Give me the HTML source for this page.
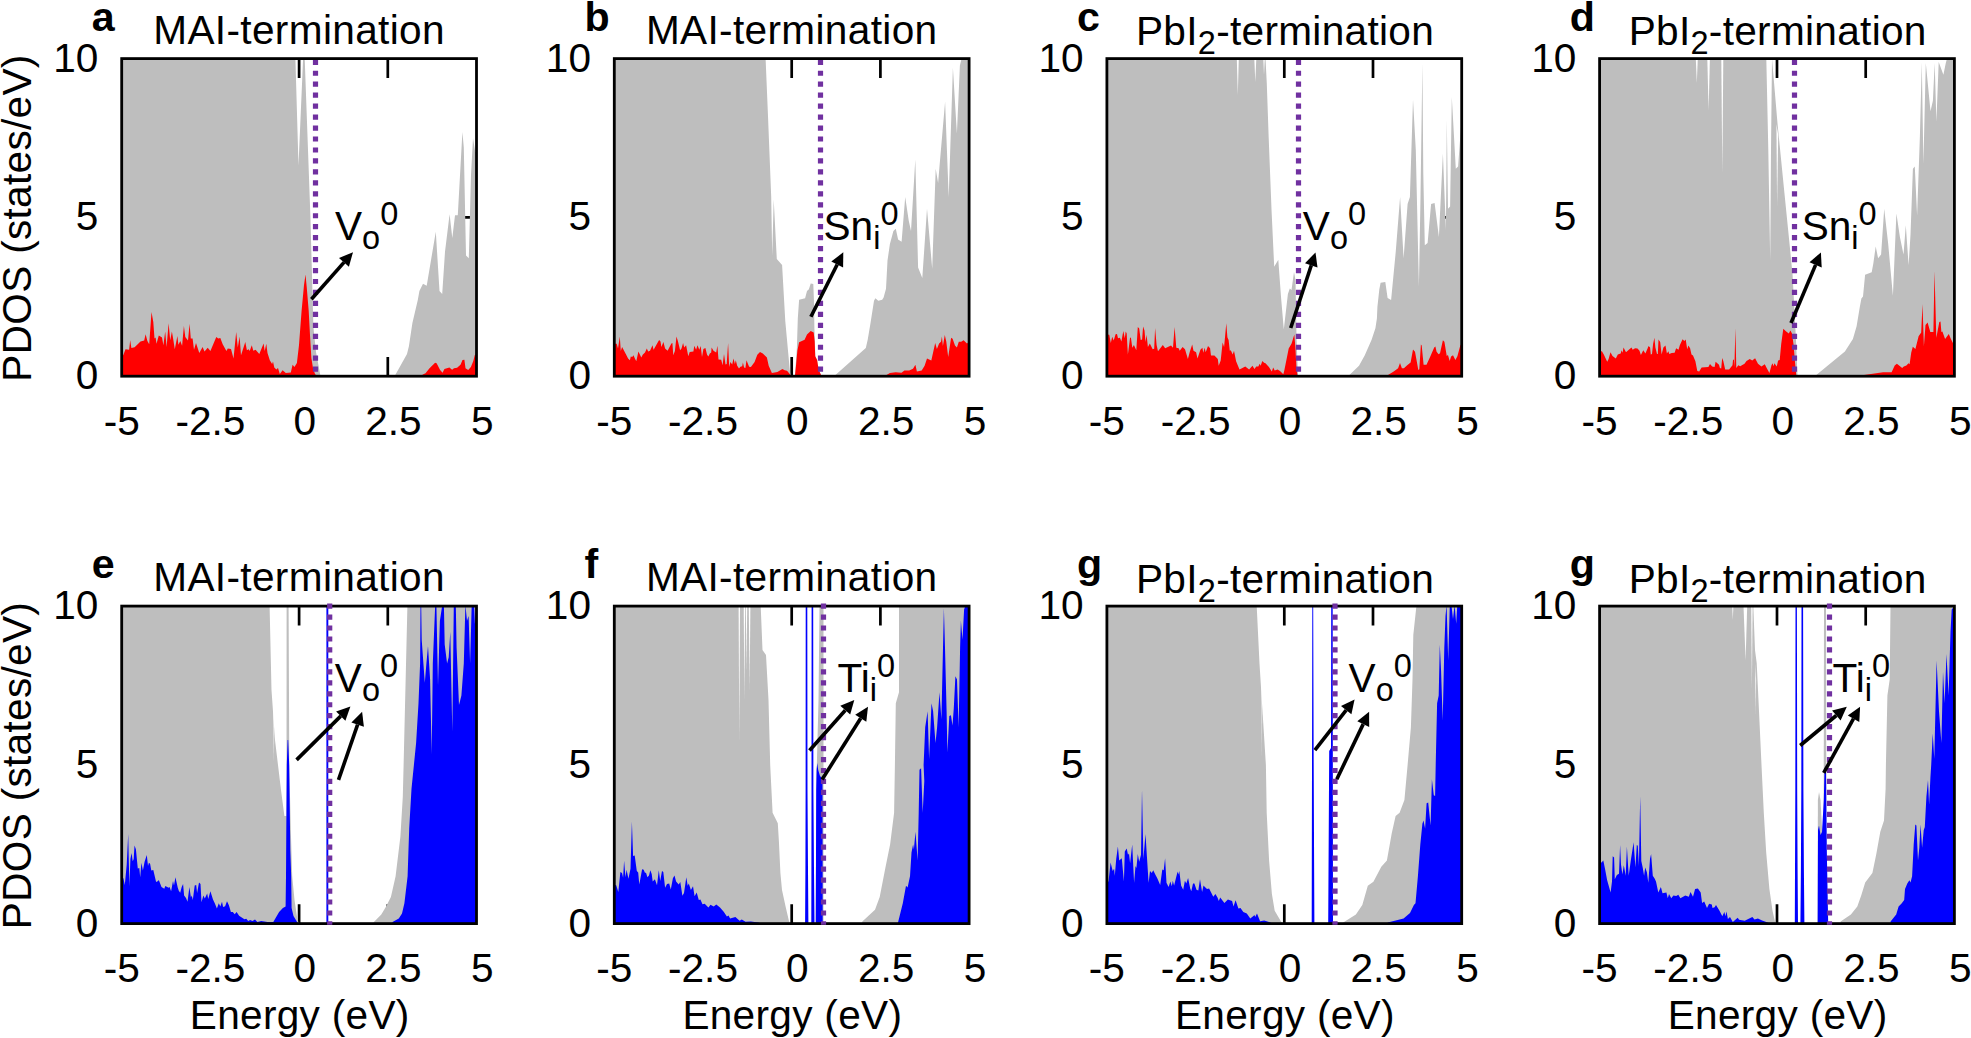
<!DOCTYPE html>
<html lang="en"><head><meta charset="utf-8"><title>PDOS</title>
<style>html,body{margin:0;padding:0;background:#fff}body{width:1971px;height:1038px;overflow:hidden}svg{display:block}text{font-family:"Liberation Sans",sans-serif;fill:#000}</style>
</head><body>
<svg width="1971" height="1038" viewBox="0 0 1971 1038">
<rect width="1971" height="1038" fill="#fff"/>
<g id="panel-a">
<clipPath id="cp0"><rect x="121.7" y="58.6" width="354.8" height="317.6"/></clipPath>
<path d="M210.4 58.6v19.3M210.4 376.2v-19.3M299.1 58.6v19.3M299.1 376.2v-19.3M387.8 58.6v19.3M387.8 376.2v-19.3M121.7 217.4h19.3M476.5 217.4h-19.3" stroke="#000" stroke-width="2.7" fill="none"/>
<g clip-path="url(#cp0)">
<polygon fill="#bebebe" points="121.7,376.2 121.7,58.6 295.4,58.6 298.5,165.4 303.1,58.6 304.7,58.6 310.4,216 313.4,327 316,352 320.5,376.2"/>
<polygon fill="#bebebe" points="395.4,376.2 395.4,374.8 407,353.9 408.9,346.2 412.4,323.1 417.8,300 419.4,291.1 423,283.8 426.7,285.7 435.8,231.7 439.5,291.1 442.2,293.9 445,251.8 449.6,214.3 452.3,238.1 455,215.2 457.8,215.2 462.4,131.9 463.8,147.5 466,255.5 468.8,258.2 471,174.9 473,138.3 475.2,152 477.9,152 477.9,376.2"/>
<polygon fill="#ff0000" points="120,376.2 120,355.3 123.2,355.3 125.5,349.3 129.1,349.8 130.2,340.2 131.4,347.9 134.6,347.3 140.5,341.6 144.2,340.6 145.6,334.2 147.4,341.1 149.2,344.3 151.5,311.9 153.3,321.9 154.5,338.4 155.6,337.4 156.5,343.8 158.8,335.6 162,337.4 163.4,345.2 165.2,331.5 166.6,347 168.6,323.3 170.2,340.2 171.9,331.5 173.4,340.2 174.8,349.3 177.4,336.1 178.4,344.7 180.3,341.1 182.1,345.7 183.9,326 185.3,337 188,340.6 189.6,323.7 190.8,338.4 192.6,338.4 194,349.8 196,342.9 199.3,353 202.6,347 204.5,351.6 207.7,347.7 210.4,351.1 216.3,337 218.2,338.4 220.3,337.9 222.7,344.3 226.4,351.1 227.8,348.4 231,348.9 233.5,358.4 236.2,332.1 237.8,347.5 239.6,336.5 241,355.3 245.3,342 246.9,350.2 248.8,349.3 249.7,351.1 251.8,345.2 253.3,350.7 255.6,349.8 259.3,353.9 263.6,343.4 264.7,351.1 266.3,343.8 267.5,353 269.8,360.3 272.1,363.9 273,361.6 274.3,367.6 276.3,369.4 278,368 279.8,374 282.6,370.3 285.8,373.1 290.8,372.6 292.6,364.8 294.4,367.1 296.3,363.9 296.9,363 299,345 301.6,310.8 304,285 305.5,274.5 306.8,288 308.7,310.8 310,335 311.4,358.2 313,368 315,374 317,376.2 317,376.2"/>
<polygon fill="#ff0000" points="422.4,376.2 422.4,374.8 425.5,373.2 429.3,368.6 435.1,362.8 436.6,363.2 440.1,370.1 442.6,372.8 444.4,369 449.4,367.4 452.1,369.7 454,368.2 457.1,367.8 460.5,364.7 462.5,360.1 464.4,359.7 465.5,368.2 468.2,370.1 470.9,367.1 473.3,360.9 474.8,355.1 477.1,353.9 477.1,376.2"/>
</g>
<line x1="315.5" y1="59.7" x2="315.5" y2="376.2" stroke="#7030a0" stroke-width="5.2" stroke-dasharray="5.2 5.76"/>
<rect x="121.7" y="58.6" width="354.8" height="317.6" fill="none" stroke="#000" stroke-width="2.8"/>
<line x1="311.4" y1="299.2" x2="344" y2="262.4" stroke="#000" stroke-width="3.6"/>
<polygon fill="#000" points="353,252.2 348.9,266.8 339,258"/>
<text x="335" y="240.3" font-size="40.6">V<tspan dy="8.5" font-size="32.5">o</tspan><tspan dy="-23.8" font-size="32.5">0</tspan></text>
<text x="299.1" y="43.6" font-size="40.6" text-anchor="middle" letter-spacing="0.35">MAI-termination</text>
<text x="91.8" y="31.2" font-size="41.2" font-weight="bold">a</text>
<text x="121.7" y="434.9" font-size="40.6" text-anchor="middle">-5</text>
<text x="210.4" y="434.9" font-size="40.6" text-anchor="middle">-2.5</text>
<text x="304.8" y="434.9" font-size="40.6" text-anchor="middle">0</text>
<text x="393.5" y="434.9" font-size="40.6" text-anchor="middle">2.5</text>
<text x="482.4" y="434.9" font-size="40.6" text-anchor="middle">5</text>
<text x="98.4" y="389.1" font-size="40.6" text-anchor="end">0</text>
<text x="98.4" y="230.3" font-size="40.6" text-anchor="end">5</text>
<text x="98.4" y="71.5" font-size="40.6" text-anchor="end">10</text>
<text transform="translate(30.8 218) rotate(-90)" font-size="40.6" text-anchor="middle" letter-spacing="0.3">PDOS (states/eV)</text>
</g>
<g id="panel-b">
<clipPath id="cp1"><rect x="614.3" y="58.6" width="354.8" height="317.6"/></clipPath>
<path d="M703 58.6v19.3M703 376.2v-19.3M791.7 58.6v19.3M791.7 376.2v-19.3M880.4 58.6v19.3M880.4 376.2v-19.3M614.3 217.4h19.3M969.1 217.4h-19.3" stroke="#000" stroke-width="2.7" fill="none"/>
<g clip-path="url(#cp1)">
<polygon fill="#bebebe" points="614.3,376.2 614.3,58.6 765.6,58.6 768.1,118.4 771.2,196.5 772.2,255.8 773.7,199.6 776.8,258.9 782.1,265.1 785.3,321.3 789.9,371.3 790.5,376.2"/>
<polygon fill="#bebebe" points="794.9,376.2 796.9,347.5 797.8,318.6 799.1,299.8 805.1,298.3 807,291.1 808.9,289.2 810.7,283.4 813.3,283.9 813.9,299.3 814.4,328.2 815.4,356.2 817.1,360 818.6,369.6 821,375 821.5,376.2"/>
<polygon fill="#bebebe" points="834,376.2 834,376.2 865.8,348 867.7,339.8 870.6,322.4 874,300.7 875.4,298.3 878.3,300.7 882.2,299.8 883.6,297.4 886,288.7 887.5,260.5 889.9,244.1 893.4,231.1 895.8,228.8 898.1,239.4 901.6,241.7 905.2,197 908.7,220.5 911,231.1 915.3,159.4 918.1,267.6 922.3,278.1 927,208.8 932.2,268.7 935.7,168.8 938.1,182.9 939.7,164.1 945.1,101.8 948.7,197 952.9,67.8 956.9,133.6 959.9,65.4 961.6,58.4 972.2,58.4 972.2,376.2"/>
<polygon fill="#ff0000" points="613,376.2 613,343.8 616.7,343.8 618,348.4 619.8,336.5 620.8,351.1 622.1,347 625.8,353.9 628.1,358.4 629.9,360.3 630.8,356.6 632.2,357.1 633.5,355.3 634.9,358.4 636.3,361.2 638.4,351.6 641.3,357.5 642.7,354.8 645,352.5 646.8,348.4 648.2,351.6 650,350.7 652.5,345.2 653.6,349.8 659.1,340 660.5,341.6 661.4,347 663.4,342 665.1,348.4 667.6,350.7 671.4,343.4 672.4,342.9 673.3,355.3 674.9,351.1 676.5,336.5 678,341.6 680.1,350.2 681.5,348.4 683.1,342.9 684.2,347.5 686.1,345.2 688.3,356.2 689.7,352.1 693.4,351.6 694.3,345.7 696.1,349.8 697.5,345.2 699.3,349.8 700.7,346.1 702,357.1 703.4,348.9 705.4,347.9 707.1,354.8 708.4,356.6 709.8,353.4 711.2,352.5 711.6,347.5 713.5,350.7 716.2,352.5 717.4,345.7 718.5,359.4 721.2,359.8 722.6,365.3 724,353.9 725.5,364.4 726.7,363.9 728.1,342.9 729.2,367.1 730.4,362.1 732.2,364.4 733.5,358.4 734.9,363.9 735.8,360.3 737.2,365.8 739,368.5 740.4,366.7 742.2,366.2 742.9,362.6 744.1,367.6 745.4,368 746.5,360.3 749.1,366.7 750.9,367.1 754.6,362.1 757.3,354.8 760,351.9 762.8,353.4 766.9,357.5 768.7,365.8 771.9,373.1 777.4,372.1 782.4,368.9 784.7,370.3 787,370.8 790.6,374.9 791.1,376.2 791.1,376.2"/>
<polygon fill="#ff0000" points="794.9,376.2 795.9,366.8 797.4,350.4 799.1,342.2 804.6,339.8 807,334.5 810.7,331.1 813.7,332.5 814.7,341.7 815.2,356.2 817.1,360 818.6,369.6 821,375 821.5,376.2"/>
<polygon fill="#ff0000" points="886.5,376.2 886.5,375 889.9,373 895.7,372.3 901.5,372.7 904.4,370.6 909.2,370.4 913,368.7 915.4,364.8 916.9,371.6 921.7,370.6 924.6,365.8 927,358.6 931.3,360.5 935.2,343.1 936.9,348.9 939.1,343.6 941,341.7 941.9,336.4 942.9,346 944.8,334.9 946.3,341.7 948.2,357.1 951.1,337.8 952.6,338.8 955,345.6 956.9,347.5 958.8,341.7 961.2,341.7 963.6,340.2 967,343.6 970.4,340.7 970.4,376.2"/>
</g>
<line x1="820.5" y1="59.7" x2="820.5" y2="376.2" stroke="#7030a0" stroke-width="5.2" stroke-dasharray="5.2 5.76"/>
<rect x="614.3" y="58.6" width="354.8" height="317.6" fill="none" stroke="#000" stroke-width="2.8"/>
<line x1="810.9" y1="316.8" x2="837.2" y2="264.5" stroke="#000" stroke-width="3.6"/>
<polygon fill="#000" points="843.3,252.3 843.1,267.4 831.3,261.5"/>
<text x="823.5" y="240.3" font-size="40.6">Sn<tspan dy="8.5" font-size="32.5">i</tspan><tspan dy="-23.8" font-size="32.5">0</tspan></text>
<text x="791.7" y="43.6" font-size="40.6" text-anchor="middle" letter-spacing="0.35">MAI-termination</text>
<text x="584.4" y="31.2" font-size="41.2" font-weight="bold">b</text>
<text x="614.3" y="434.9" font-size="40.6" text-anchor="middle">-5</text>
<text x="703" y="434.9" font-size="40.6" text-anchor="middle">-2.5</text>
<text x="797.4" y="434.9" font-size="40.6" text-anchor="middle">0</text>
<text x="886.1" y="434.9" font-size="40.6" text-anchor="middle">2.5</text>
<text x="975" y="434.9" font-size="40.6" text-anchor="middle">5</text>
<text x="591" y="389.1" font-size="40.6" text-anchor="end">0</text>
<text x="591" y="230.3" font-size="40.6" text-anchor="end">5</text>
<text x="591" y="71.5" font-size="40.6" text-anchor="end">10</text>
</g>
<g id="panel-c">
<clipPath id="cp2"><rect x="1106.9" y="58.6" width="354.8" height="317.6"/></clipPath>
<path d="M1195.6 58.6v19.3M1195.6 376.2v-19.3M1284.3 58.6v19.3M1284.3 376.2v-19.3M1373 58.6v19.3M1373 376.2v-19.3M1106.9 217.4h19.3M1461.7 217.4h-19.3" stroke="#000" stroke-width="2.7" fill="none"/>
<g clip-path="url(#cp2)">
<polygon fill="#bebebe" points="1106.9,376.2 1106.9,58.6 1236.8,58.6 1237.8,95 1238.8,58.6 1254.3,58.6 1255.3,82 1256.3,58.6 1263.3,58.6 1264,75 1264.8,58.6 1265.5,58.6 1266.8,83.4 1268.7,138 1271.5,209.2 1274.2,266.7 1278.3,259.8 1281,296.8 1283.8,329.6 1287.9,294 1289.8,288.6 1291.5,290 1294,272 1295.5,280 1296.5,337.8 1298,376.2"/>
<polygon fill="#bebebe" points="1349.4,376.2 1349.4,375 1359,365.8 1364.8,355.2 1371.6,339.8 1375.4,328.2 1376.9,318.6 1377.4,307 1379.3,289.6 1380.6,282.8 1385.3,282.1 1387.6,298.1 1391.1,300 1395.8,251.1 1400.1,197 1403.6,258.2 1407.6,204.1 1409.9,197 1413,99.5 1415.8,150 1418.9,286.4 1420.5,197 1422.4,63.1 1423.3,173.5 1424.8,245.2 1427.6,242.9 1431.1,204.1 1434.6,202.9 1438.9,237 1442.9,153.6 1445.9,229.9 1446.8,119.5 1448,208.8 1450.1,206.4 1451.8,97.1 1455.8,168.8 1458.1,166.5 1461,126.5 1465.2,114.8 1465.2,376.2"/>
<polygon fill="#ff0000" points="1105,376.2 1105,334.3 1109.3,334.8 1110.8,343 1112.2,336.8 1113.7,340.6 1115.6,334.3 1117,333.9 1118,338.2 1119.9,337.7 1121.4,341.6 1123.3,331 1124.8,338.2 1125.7,331.5 1126.7,333.4 1127.9,354.6 1130.1,337.2 1131,338.2 1132.3,347.8 1133.9,344.9 1136.3,350.2 1137.8,327.1 1139.2,328.6 1140.7,340.1 1142.1,339.6 1143.1,326.6 1144.5,330.5 1145.5,342.1 1146.6,334.8 1147.9,346.9 1149.8,343.5 1152.7,349.3 1154.2,348.8 1155.1,328.1 1156.6,344.9 1158,351.2 1162.8,345.1 1165.2,348.3 1171,345.4 1173,347.8 1174.6,327.1 1176.3,347.8 1178.7,348.3 1179.7,350.7 1182.6,346.9 1185,349.3 1187.9,358.9 1189.8,351.7 1192.2,344.5 1193.5,350.7 1196.1,352.2 1197.5,358.4 1200.4,349.8 1202.4,347.8 1203.3,352.7 1204.6,347.8 1205.7,352.2 1208,345.9 1210.1,348.3 1211,355.6 1214.4,355.6 1217.8,358.9 1218.7,365.7 1220.7,360.4 1222.6,342.5 1224.1,346.9 1226.3,323.3 1227.4,337.2 1228.6,340.1 1229.8,350.7 1230.8,350.2 1232.7,354.6 1234,350.7 1236.1,361.3 1239.5,369.5 1245.3,366.6 1249.1,369.5 1252.5,365.7 1254.4,369 1256.3,366.6 1258.3,366.6 1259.7,363.7 1260.7,365.7 1262.3,360.9 1264.1,362.8 1265.5,363.3 1268.9,367.1 1271.8,371.5 1273.2,367.6 1274.7,370.5 1277.6,369.5 1280,371 1283.3,374.3 1284.3,370.6 1288.7,348.4 1291.6,343.6 1294.3,334.5 1295.4,347.5 1296.4,366.8 1297.4,375 1297.8,376.2 1297.8,376.2"/>
<polygon fill="#ff0000" points="1388,376.2 1388,375 1393.7,371.6 1398.1,368.2 1400,362.9 1401.9,368.2 1403.9,368.2 1407.2,365.3 1410.6,362.4 1413,349.4 1415,351.8 1416.9,361.9 1418.3,370.1 1419.3,369.2 1420.9,344.6 1421.7,345.6 1423.6,364.8 1426.5,364.8 1430.4,356.2 1434.2,347.5 1435.4,346.5 1436.6,351.8 1438.6,354.2 1440,353.3 1442.9,340.2 1444.4,341.7 1446.8,356.2 1447.9,354.7 1449.7,361 1451.1,356.6 1453,355.2 1455.4,360 1457.4,356.2 1460.3,345.6 1464.1,339.8 1464.1,376.2"/>
</g>
<line x1="1298.5" y1="59.7" x2="1298.5" y2="376.2" stroke="#7030a0" stroke-width="5.2" stroke-dasharray="5.2 5.76"/>
<rect x="1106.9" y="58.6" width="354.8" height="317.6" fill="none" stroke="#000" stroke-width="2.8"/>
<line x1="1290.7" y1="328" x2="1311.3" y2="265.3" stroke="#000" stroke-width="3.6"/>
<polygon fill="#000" points="1315.5,252.4 1317.5,267.4 1305,263.3"/>
<text x="1302.8" y="240.3" font-size="40.6">V<tspan dy="8.5" font-size="32.5">o</tspan><tspan dy="-23.8" font-size="32.5">0</tspan></text>
<text x="1285" y="45.2" font-size="40.6" text-anchor="middle" letter-spacing="0.3">PbI<tspan dy="9" font-size="32.5">2</tspan><tspan dy="-9">-termination</tspan></text>
<text x="1077" y="31.2" font-size="41.2" font-weight="bold">c</text>
<text x="1106.9" y="434.9" font-size="40.6" text-anchor="middle">-5</text>
<text x="1195.6" y="434.9" font-size="40.6" text-anchor="middle">-2.5</text>
<text x="1290" y="434.9" font-size="40.6" text-anchor="middle">0</text>
<text x="1378.7" y="434.9" font-size="40.6" text-anchor="middle">2.5</text>
<text x="1467.6" y="434.9" font-size="40.6" text-anchor="middle">5</text>
<text x="1083.6" y="389.1" font-size="40.6" text-anchor="end">0</text>
<text x="1083.6" y="230.3" font-size="40.6" text-anchor="end">5</text>
<text x="1083.6" y="71.5" font-size="40.6" text-anchor="end">10</text>
</g>
<g id="panel-d">
<clipPath id="cp3"><rect x="1599.6" y="58.6" width="354.8" height="317.6"/></clipPath>
<path d="M1688.3 58.6v19.3M1688.3 376.2v-19.3M1777 58.6v19.3M1777 376.2v-19.3M1865.7 58.6v19.3M1865.7 376.2v-19.3M1599.6 217.4h19.3M1954.4 217.4h-19.3" stroke="#000" stroke-width="2.7" fill="none"/>
<g clip-path="url(#cp3)">
<polygon fill="#bebebe" points="1599.6,376.2 1599.6,58.6 1772,58.6 1777.6,124.4 1784.4,192.8 1789.9,247.5 1792.6,274.9 1796,340 1797.5,376.2"/>
<polygon fill="#bebebe" points="1816.3,376.2 1816.3,374.9 1844.9,351.6 1852.9,338.9 1856.6,326.2 1859.8,307.1 1861.4,298.6 1863,296.5 1865.1,274.8 1871.7,272.3 1873.4,262.9 1875.7,246.4 1878.1,258.2 1881.1,254.6 1884.2,208.8 1888.2,244.1 1892.9,295.8 1896.4,213.5 1899.9,237 1903.5,254.6 1905.8,225.2 1908.6,265.2 1910.5,234.7 1912.9,168.8 1914.8,166.5 1917.1,215.8 1919.9,135.9 1921.8,61.9 1923.4,164.1 1925.8,63.1 1930.5,111.2 1932.9,100.7 1934.7,63.1 1936.4,121.8 1938.7,61.9 1943.4,74.8 1945.8,63.1 1947,58.4 1962.2,58.4 1962.2,376.2"/>
<polygon fill="#fff" points="1695.8,58.6 1696.8,83 1697.8,58.6"/>
<polygon fill="#fff" points="1707.3,58.6 1708.6,110.7 1709.9,58.6"/>
<polygon fill="#fff" points="1721.3,58.6 1722.3,173.6 1723.3,58.6"/>
<polygon fill="#fff" points="1766.3,58.6 1768.3,150 1770.2,261 1771,150 1772,58.6"/>
<polygon fill="#fff" points="1776.4,124 1777.1,206 1778.2,135"/>
<polygon fill="#ff0000" points="1598,376.2 1598,351.7 1601.9,351.2 1603.8,354.6 1607.2,361.8 1608.6,358.9 1610.5,352.2 1612.5,356 1615.8,358.4 1617.8,354.6 1620.7,353.6 1621.6,350.2 1622.6,352.7 1623.5,347.4 1626,352.2 1628.8,349.8 1631.5,347.4 1632.7,349.8 1635.1,348.3 1637.5,348.6 1639.5,350.7 1640.9,355.1 1643.3,350.2 1645.4,353.6 1648.6,345.9 1650.1,347.4 1650.8,354.6 1652,354.1 1653.1,344 1654.4,337.7 1655.4,347.4 1657,354.1 1657.8,354.1 1658.5,339.6 1660.2,342.1 1661.6,354.6 1663.4,347.4 1665.5,345.4 1666.9,353.6 1668.4,351.2 1669.3,354.1 1671.7,353.1 1674.6,352.7 1676.1,348.3 1678.5,349.8 1679.9,344.9 1682.6,339.2 1684.3,341.1 1685.7,339.6 1687.2,349.3 1688.4,345.4 1690.1,348.3 1691.5,354.6 1693,355.6 1695.4,361.3 1697.3,371 1699.2,371.5 1701.6,367.6 1708.4,367.1 1710,364 1712.2,366.6 1714.6,367.1 1715.6,361.8 1719,364.7 1719.9,368.1 1721.2,368.6 1722.2,358 1723.3,360.9 1725.2,369.5 1729.1,369.5 1732.5,365.2 1733,359.9 1733.9,359.4 1734.4,367.1 1735.4,328.1 1736.3,368.1 1738.3,365.2 1740.2,366.2 1744.5,363.7 1746.5,360.9 1749.8,358.9 1752.2,360.4 1755.1,358.2 1758,363.7 1761.4,366.6 1764.8,364.2 1766.7,368.1 1769.4,372.9 1771.5,365.2 1772.5,363.3 1773.6,366.2 1774.4,363.3 1776.8,366.6 1778.1,360.4 1779.7,359.9 1781.2,344 1783.3,328.8 1785.6,330.9 1788.8,333.6 1790.4,330.4 1792,333.6 1793.5,344.2 1795.1,363.3 1796.2,374.9 1796.4,376.2 1796.4,376.2"/>
<polygon fill="#ff0000" points="1864,376.2 1864,374.9 1883.1,372.3 1891.6,372.3 1894.7,365.4 1896.9,363.8 1902.2,368 1903.8,366.4 1906.4,365.4 1908.5,363.3 1909.6,364.3 1911.2,352.7 1912.8,346.8 1915.4,348.9 1918.6,336.2 1921.2,332.5 1922.5,303.9 1923.9,346.3 1925.5,325.1 1927.6,322.5 1930.3,332 1933.4,332 1934.5,271.1 1936.3,337.8 1939.3,321.9 1940.5,321.4 1941.4,332 1942.4,331.5 1945.1,338.9 1948.8,334.1 1950.9,338.9 1954.1,345.2 1957.3,347.4 1957.3,376.2"/>
</g>
<line x1="1794.5" y1="59.7" x2="1794.5" y2="376.2" stroke="#7030a0" stroke-width="5.2" stroke-dasharray="5.2 5.76"/>
<rect x="1599.6" y="58.6" width="354.8" height="317.6" fill="none" stroke="#000" stroke-width="2.8"/>
<line x1="1791" y1="323" x2="1815.6" y2="264.9" stroke="#000" stroke-width="3.6"/>
<polygon fill="#000" points="1820.9,252.4 1821.7,267.5 1809.5,262.3"/>
<text x="1801.7" y="240.3" font-size="40.6">Sn<tspan dy="8.5" font-size="32.5">i</tspan><tspan dy="-23.8" font-size="32.5">0</tspan></text>
<text x="1777.7" y="45.2" font-size="40.6" text-anchor="middle" letter-spacing="0.3">PbI<tspan dy="9" font-size="32.5">2</tspan><tspan dy="-9">-termination</tspan></text>
<text x="1569.7" y="31.2" font-size="41.2" font-weight="bold">d</text>
<text x="1599.6" y="434.9" font-size="40.6" text-anchor="middle">-5</text>
<text x="1688.3" y="434.9" font-size="40.6" text-anchor="middle">-2.5</text>
<text x="1782.7" y="434.9" font-size="40.6" text-anchor="middle">0</text>
<text x="1871.4" y="434.9" font-size="40.6" text-anchor="middle">2.5</text>
<text x="1960.3" y="434.9" font-size="40.6" text-anchor="middle">5</text>
<text x="1576.3" y="389.1" font-size="40.6" text-anchor="end">0</text>
<text x="1576.3" y="230.3" font-size="40.6" text-anchor="end">5</text>
<text x="1576.3" y="71.5" font-size="40.6" text-anchor="end">10</text>
</g>
<g id="panel-e">
<clipPath id="cp4"><rect x="121.7" y="606.1" width="354.8" height="317.5"/></clipPath>
<path d="M210.4 606.1v19.3M210.4 923.6v-19.3M299.1 606.1v19.3M299.1 923.6v-19.3M387.8 606.1v19.3M387.8 923.6v-19.3M121.7 764.9h19.3M476.5 764.9h-19.3" stroke="#000" stroke-width="2.7" fill="none"/>
<g clip-path="url(#cp4)">
<polygon fill="#bebebe" points="121.7,923.6 121.7,606.1 269.6,606.1 271.5,690 275,740 278,765 281,790 284.4,816 286.5,816 286.6,606.1 288.6,606.1 289.3,765 290.8,830 292.2,876 294.5,900 297.5,920 299,923.6"/>
<polygon fill="#bebebe" points="373.4,923.6 373.4,922.4 381.3,914.4 386.1,906.5 390.9,897 395.6,876.3 400.4,836.5 402.8,796.8 403.6,765 407.4,606.1 476.5,606.1 476.5,923.6"/>
<polygon fill="#fff" points="273.2,684 273.8,762 274.7,690"/>
<polygon fill="#0000ff" points="120,923.6 120,878.2 123.4,878.2 124.8,884.9 126.7,864.7 128.2,833.9 129.4,885.9 130.4,858.9 131.6,853.1 132.7,861.3 133.7,858.9 134.5,845.4 135.9,849.3 137.8,868.6 139.3,868.1 140.2,877.2 141.4,862.8 142.9,870.5 144.6,861.8 146.8,855.1 148,866.1 148.9,862.8 150.1,863.7 151.3,870.5 153.3,870 156.1,882.1 158.1,881.1 158.8,880.1 161.5,886.9 164.3,888.8 165.3,885.9 167.2,886.9 168.7,887.8 169.6,886.9 171.1,891.2 173,881.1 174,885.4 175.4,877.2 177.8,887.8 178.8,890.7 180.2,892.7 181.7,886.9 183.1,884 184.1,895.6 186,898 187.5,901.8 189.4,886.9 190.9,897.5 191.8,895.6 192.8,899.9 194.7,885.4 196.2,884.9 197.1,893.1 199,882.5 200.5,884 201.5,902.3 203.4,895.6 204.8,898.4 207.2,893.6 208.2,898.9 210.4,891.2 213,899.4 215,903.7 216.9,908.6 218.8,903.3 220.3,906.6 222,901.8 223.1,907.1 225.1,906.2 227,901.3 228.9,905.2 230.9,911.9 232.8,911.9 234.7,914.3 236.6,911.9 239.1,915.8 244.4,919.2 246.3,918.7 248.2,921.1 250.1,920.1 252.5,921.1 255,919.6 257.4,922.1 261.2,921.1 267.5,922.1 273.3,922.1 279.1,911.9 282.9,908.1 285.6,906.6 286,876 286.3,830 286.8,765 287.6,740 288.2,740 289.2,765 289.5,790 290.3,850 291.2,876 291.6,908 293.5,916 298,923.6 298,923.6"/>
<polygon fill="#0000ff" points="392.5,923.6 392.5,922.1 398.8,918.4 402,913.6 404.4,903.3 407.6,876.3 409.2,828.6 411.5,788.8 413.9,765 416.1,743.1 418.5,703.3 420.1,663.6 420.5,604.8 421.2,604.8 421.7,639.7 424.8,682.7 426.4,663.6 428,646.1 430.1,679.5 431.7,754.2 432.8,663.6 435.2,604.8 436.4,604.8 438,685.8 439.9,620.7 442.3,604.8 443.9,604.8 444.7,644.5 447.1,663.6 448.7,657.2 450.3,631.8 452.3,731.9 453.8,604.8 455.8,604.8 456.6,647.7 459,704.9 461.4,695.4 463.8,663.6 465.4,604.8 467,620.7 468.6,615.9 470.1,663.6 471.7,604.8 474.1,604.8 474.9,623.8 476.2,604.8 481.3,604.8 476.5,923.6"/>
<rect x="326.4" y="606.1" width="1.9" height="317.5" fill="#0000ff"/>
</g>
<rect x="121.7" y="606.1" width="354.8" height="317.5" fill="none" stroke="#000" stroke-width="2.8"/>
<line x1="329.7" y1="603.5" x2="329.7" y2="924.8" stroke="#7030a0" stroke-width="5.2" stroke-dasharray="5.2 5.76"/>
<line x1="296.6" y1="759.9" x2="340.7" y2="716.1" stroke="#000" stroke-width="3.6"/>
<polygon fill="#000" points="350.4,706.5 345.4,720.8 336.1,711.4"/>
<line x1="338.5" y1="779.9" x2="357.6" y2="724.7" stroke="#000" stroke-width="3.6"/>
<polygon fill="#000" points="362.1,711.8 363.9,726.8 351.4,722.5"/>
<text x="334.8" y="692.3" font-size="40.6">V<tspan dy="8.5" font-size="32.5">o</tspan><tspan dy="-23.8" font-size="32.5">0</tspan></text>
<text x="299.1" y="591.1" font-size="40.6" text-anchor="middle" letter-spacing="0.35">MAI-termination</text>
<text x="91.8" y="578.1" font-size="41.2" font-weight="bold">e</text>
<text x="121.7" y="982.3" font-size="40.6" text-anchor="middle">-5</text>
<text x="210.4" y="982.3" font-size="40.6" text-anchor="middle">-2.5</text>
<text x="304.8" y="982.3" font-size="40.6" text-anchor="middle">0</text>
<text x="393.5" y="982.3" font-size="40.6" text-anchor="middle">2.5</text>
<text x="482.4" y="982.3" font-size="40.6" text-anchor="middle">5</text>
<text x="98.4" y="936.5" font-size="40.6" text-anchor="end">0</text>
<text x="98.4" y="777.8" font-size="40.6" text-anchor="end">5</text>
<text x="98.4" y="619" font-size="40.6" text-anchor="end">10</text>
<text x="299.7" y="1028.6" font-size="40.6" text-anchor="middle" letter-spacing="0.3">Energy (eV)</text>
<text transform="translate(30.8 765.5) rotate(-90)" font-size="40.6" text-anchor="middle" letter-spacing="0.3">PDOS (states/eV)</text>
</g>
<g id="panel-f">
<clipPath id="cp5"><rect x="614.3" y="606.1" width="354.8" height="317.5"/></clipPath>
<path d="M703 606.1v19.3M703 923.6v-19.3M791.7 606.1v19.3M791.7 923.6v-19.3M880.4 606.1v19.3M880.4 923.6v-19.3M614.3 764.9h19.3M969.1 764.9h-19.3" stroke="#000" stroke-width="2.7" fill="none"/>
<g clip-path="url(#cp5)">
<polygon fill="#bebebe" points="614.3,923.6 614.3,606.1 760.7,606.1 762.5,650 766,655 768.5,700 770.2,765 772.6,812.7 776.2,820 777.8,823.2 778.9,841.2 780.4,873 782,890 785.7,906.9 788.9,920.7 790.1,923.6"/>
<polygon fill="#bebebe" points="819.5,606.1 818.5,700 816.5,778 815.5,923.6 823.5,923.6 823.5,606.1"/>
<polygon fill="#bebebe" points="862.3,923.6 862.3,921.6 875,909.7 879.7,897 885.3,868.3 890.1,844.5 894.1,812.7 894.9,765 895.8,703.3 899,692.2 899,606.1 969.1,606.1 969.1,923.6"/>
<polygon fill="#fff" points="738.6,606.1 739.3,740 740,606.1"/>
<polygon fill="#fff" points="743.7,606.1 744.4,700 745.1,606.1"/>
<polygon fill="#fff" points="745.8,606.1 746.5,672 747.2,606.1"/>
<polygon fill="#fff" points="748.8,606.1 749.6,690 750.4,606.1"/>
<polygon fill="#0000ff" points="613,923.6 613,884.6 616.2,885.2 618.3,892.1 620.4,871.9 622,873 623.1,877.8 624.1,860.8 625.5,877.2 626.6,869.8 628.4,878.8 630.5,868.7 631.9,821.6 633.1,856 634.7,855.5 636.8,870.9 638.2,872.5 639.3,884.6 642.1,869.3 643.7,869.8 644.8,872.5 646.1,873 647.4,877.2 649,875.6 650.3,870.3 651.7,874 652.7,881.5 654.9,879.3 657,885.2 658.8,870.3 660.2,880.9 662,870.9 663.3,871.9 665.1,887.8 667,884.1 669.2,883.6 670.8,889.4 672.9,878.3 674.5,875.6 676.1,881.5 678.7,884.6 680.3,882 682.4,895.8 684,893.1 686.3,877.2 687.7,885.7 688.8,883.6 690.9,889.9 693,886.2 694.6,896.3 696.7,892.6 698.8,900 700.4,899.5 702.5,904.2 704.7,903.7 708.4,907.4 710.5,904.8 713.7,906.4 716.3,904.6 720,907.4 723.7,911.7 726.9,916.4 728.5,915.4 730.1,918.6 735.4,917 739.6,920.7 741.8,919.4 745.5,921.7 750.8,921.5 758.2,922.6 761.4,923.5 761.4,923.6"/>
<polygon fill="#0000ff" points="815.8,923.6 816.2,790 816.6,770 817.2,763 818.2,770 820,776 822.5,779 822.7,923.6"/>
<polygon fill="#0000ff" points="805.7,606.1 807.3,606.1 807.5,790 808,870 808.4,923.6 805.1,923.6 805.4,870 805.6,790"/>
<polygon fill="#0000ff" points="811.6,606.1 813.2,606.1 813.4,790 814,870 814.5,923.6 811.3,923.6 811.4,870 811.5,790"/>
<polygon fill="#0000ff" points="898,923.6 898,922.4 902.8,903.3 906,885.8 907.6,887.4 910,876.3 911.5,852.4 913.1,844.5 913.9,849.3 915.5,831.8 917.6,860.4 918.7,812.7 919.5,769.8 921.1,768.2 922.7,812.7 924.3,780.9 923.6,765 925.2,727.2 927.6,711.3 929.1,759 931.5,703.3 933.1,711.3 935.5,743.1 937.1,727.2 939.5,692.2 941.4,719.2 943,647.7 943.9,607.9 945,647.7 946.6,711.3 947.4,752.6 949.3,716 950.9,715.2 952.5,725.6 953.8,708.1 955.4,676.3 957,679.5 958.6,727.2 960.1,647.7 960.9,620.7 962.5,639.7 964.1,609.5 965.7,604.8 971.3,604.8 969.1,923.6"/>
</g>
<rect x="614.3" y="606.1" width="354.8" height="317.5" fill="none" stroke="#000" stroke-width="2.8"/>
<line x1="823.5" y1="603.5" x2="823.5" y2="924.8" stroke="#7030a0" stroke-width="5.2" stroke-dasharray="5.2 5.76"/>
<line x1="809.5" y1="750.5" x2="845.3" y2="710.2" stroke="#000" stroke-width="3.6"/>
<polygon fill="#000" points="854.3,700 850.2,714.6 840.3,705.8"/>
<line x1="822.1" y1="779.5" x2="860.7" y2="718.3" stroke="#000" stroke-width="3.6"/>
<polygon fill="#000" points="868,706.8 866.3,721.8 855.2,714.8"/>
<text x="837.5" y="692.1" font-size="40.6">Ti<tspan dy="8.5" font-size="32.5">i</tspan><tspan dy="-23.8" font-size="32.5">0</tspan></text>
<text x="791.7" y="591.1" font-size="40.6" text-anchor="middle" letter-spacing="0.35">MAI-termination</text>
<text x="584.4" y="578.1" font-size="41.2" font-weight="bold">f</text>
<text x="614.3" y="982.3" font-size="40.6" text-anchor="middle">-5</text>
<text x="703" y="982.3" font-size="40.6" text-anchor="middle">-2.5</text>
<text x="797.4" y="982.3" font-size="40.6" text-anchor="middle">0</text>
<text x="886.1" y="982.3" font-size="40.6" text-anchor="middle">2.5</text>
<text x="975" y="982.3" font-size="40.6" text-anchor="middle">5</text>
<text x="591" y="936.5" font-size="40.6" text-anchor="end">0</text>
<text x="591" y="777.8" font-size="40.6" text-anchor="end">5</text>
<text x="591" y="619" font-size="40.6" text-anchor="end">10</text>
<text x="792.3" y="1028.6" font-size="40.6" text-anchor="middle" letter-spacing="0.3">Energy (eV)</text>
</g>
<g id="panel-g">
<clipPath id="cp6"><rect x="1106.9" y="606.1" width="354.8" height="317.5"/></clipPath>
<path d="M1195.6 606.1v19.3M1195.6 923.6v-19.3M1284.3 606.1v19.3M1284.3 923.6v-19.3M1373 606.1v19.3M1373 923.6v-19.3M1106.9 764.9h19.3M1461.7 764.9h-19.3" stroke="#000" stroke-width="2.7" fill="none"/>
<g clip-path="url(#cp6)">
<polygon fill="#bebebe" points="1106.9,923.6 1106.9,606.1 1256.7,606.1 1259.5,663.6 1265.9,765 1266.7,812.7 1269.1,860.4 1271.9,894 1274.7,910.7 1281,921.6 1283,923.6"/>
<polygon fill="#bebebe" points="1343.2,923.6 1343.2,922.4 1355.9,914.4 1362.3,904.9 1367.8,885.8 1373.4,881.8 1381.3,866.7 1386.9,860.4 1391.7,833.4 1395.6,815.9 1399.6,812.7 1404.4,800 1407.6,765 1410.9,727.2 1412.5,679.5 1413.3,635 1416.4,606.1 1461.7,606.1 1461.7,923.6"/>
<polygon fill="#fff" points="1261.3,630 1261.8,760 1262.6,640"/>
<polygon fill="#0000ff" points="1105,923.6 1105,882.8 1108.5,881.4 1110.6,862.5 1112.7,870.9 1114.1,868.8 1114.8,875.8 1116.2,859 1117.9,846.5 1119.2,860.4 1121.8,858.3 1123.9,881.4 1124.8,851.4 1126.7,848.6 1128,854.8 1129,853.4 1130.1,863.2 1132.2,844.4 1134.1,882.8 1135.5,866 1136.4,868.1 1137.8,854.1 1139.2,861.8 1141,854.8 1142,789.2 1143.4,859 1145.5,833.9 1146.9,856.2 1148.6,882.8 1150,870.9 1151.8,873 1153.2,870.2 1155.3,874.4 1157.4,878.6 1160.2,884.9 1162.3,869.5 1163.7,870.2 1165.1,858.3 1166.5,882.8 1168.6,887 1170.4,881.4 1171.8,886.3 1172.8,880.7 1174.1,885.6 1177.6,871.6 1178.3,874.4 1179.3,870.9 1181.1,885.6 1183.2,889.8 1184.9,880.7 1186.3,883.5 1188.1,877.9 1190.2,888.4 1191.3,891.2 1193,883.5 1194.4,883.5 1196.5,889.8 1198.3,890.5 1200,879.3 1202.1,891.9 1203.5,885.6 1204.9,887 1207,889.1 1209.1,888.4 1213.3,896.8 1215.4,894 1217.5,897.5 1218.8,900.9 1220.2,897.5 1224.4,903 1227.9,899.5 1232.1,900.9 1233.5,906.5 1235.6,900.2 1238.4,908.6 1240.5,907.9 1243.3,912.1 1246.8,913.5 1250.3,918.4 1253.1,916.3 1254.5,914.9 1255.2,917 1257,913.5 1260.1,921.2 1264.2,920.5 1269.8,922.2 1272.6,923.6 1272.6,923.6"/>
<polygon fill="#0000ff" points="1312.3,606.1 1313.2,606.1 1313.7,765 1314.1,860 1314.4,923.6 1311.7,923.6 1311.8,860 1312,765"/>
<polygon fill="#0000ff" points="1331.2,606.1 1332.7,606.1 1333,923.6 1328.2,923.6 1329.2,751 1331,748"/>
<polygon fill="#0000ff" points="1387.7,923.6 1387.7,922.4 1403.6,918.4 1410,912.9 1413.9,904.9 1415.5,903.3 1417.9,876.3 1420.3,844.5 1422.4,823.8 1423.5,820.6 1425.1,828.6 1426.6,803.2 1428.2,802.4 1430.6,825.4 1431.9,779.3 1433.8,795.2 1435.1,796 1435.7,765 1437.1,703.3 1438.7,695.4 1439.8,644.5 1441.1,671.5 1442.7,720.8 1444.3,647.7 1445.5,615.9 1446.6,605 1448.2,660.4 1449.8,605 1451.4,605 1453,619.1 1454.6,605 1456.2,623.8 1457.3,605 1461.7,605 1461.7,923.6"/>
</g>
<rect x="1106.9" y="606.1" width="354.8" height="317.5" fill="none" stroke="#000" stroke-width="2.8"/>
<line x1="1335" y1="603.5" x2="1335" y2="924.8" stroke="#7030a0" stroke-width="5.2" stroke-dasharray="5.2 5.76"/>
<line x1="1314.9" y1="750.1" x2="1346.2" y2="710.2" stroke="#000" stroke-width="3.6"/>
<polygon fill="#000" points="1354.6,699.5 1351.4,714.3 1341,706.1"/>
<line x1="1336.8" y1="779.2" x2="1363.2" y2="724.1" stroke="#000" stroke-width="3.6"/>
<polygon fill="#000" points="1369.1,711.8 1369.2,726.9 1357.3,721.2"/>
<text x="1348.6" y="692.3" font-size="40.6">V<tspan dy="8.5" font-size="32.5">o</tspan><tspan dy="-23.8" font-size="32.5">0</tspan></text>
<text x="1285" y="592.7" font-size="40.6" text-anchor="middle" letter-spacing="0.3">PbI<tspan dy="9" font-size="32.5">2</tspan><tspan dy="-9">-termination</tspan></text>
<text x="1077" y="578.1" font-size="41.2" font-weight="bold">g</text>
<text x="1106.9" y="982.3" font-size="40.6" text-anchor="middle">-5</text>
<text x="1195.6" y="982.3" font-size="40.6" text-anchor="middle">-2.5</text>
<text x="1290" y="982.3" font-size="40.6" text-anchor="middle">0</text>
<text x="1378.7" y="982.3" font-size="40.6" text-anchor="middle">2.5</text>
<text x="1467.6" y="982.3" font-size="40.6" text-anchor="middle">5</text>
<text x="1083.6" y="936.5" font-size="40.6" text-anchor="end">0</text>
<text x="1083.6" y="777.8" font-size="40.6" text-anchor="end">5</text>
<text x="1083.6" y="619" font-size="40.6" text-anchor="end">10</text>
<text x="1284.9" y="1028.6" font-size="40.6" text-anchor="middle" letter-spacing="0.3">Energy (eV)</text>
</g>
<g id="panel-h">
<clipPath id="cp7"><rect x="1599.6" y="606.1" width="354.8" height="317.5"/></clipPath>
<path d="M1688.3 606.1v19.3M1688.3 923.6v-19.3M1777 606.1v19.3M1777 923.6v-19.3M1865.7 606.1v19.3M1865.7 923.6v-19.3M1599.6 764.9h19.3M1954.4 764.9h-19.3" stroke="#000" stroke-width="2.7" fill="none"/>
<g clip-path="url(#cp7)">
<polygon fill="#bebebe" points="1599.6,923.6 1599.6,606.1 1753.3,606.1 1755,650 1756.7,663 1759,711 1761.5,765 1763.8,812.7 1766.2,852.4 1769.4,889 1772.6,911.3 1775,921.6 1776,923.6"/>
<polygon fill="#bebebe" points="1824,606.1 1826,606.1 1826.5,923.6 1823.5,923.6"/>
<polygon fill="#bebebe" points="1817.5,923.6 1817.9,800 1819,792 1820.5,800 1822.7,840 1823.5,923.6"/>
<polygon fill="#bebebe" points="1840.6,923.6 1840.6,921.6 1850.9,914.4 1857.3,906.5 1861.2,895.4 1865.2,882.6 1872.4,873.1 1876.3,854 1880.3,831.8 1884,820.6 1885.6,788.8 1885.9,765 1887.4,695.4 1889.7,679.5 1890.5,606.1 1954.4,606.1 1954.4,923.6"/>
<polygon fill="#fff" points="1743.5,606.1 1745.6,660.4 1747.2,606.1"/>
<polygon fill="#fff" points="1751.2,606.1 1751.9,689 1752.6,606.1"/>
<polygon fill="#fff" points="1755.2,664 1755.6,714 1756.1,680"/>
<polygon fill="#fff" points="1732.2,606.1 1732.8,620 1733.4,606.1"/>
<polygon fill="#0000ff" points="1598,923.6 1598,863.2 1601.5,862.5 1603.3,860.4 1605,868.8 1607.1,880 1610.6,892.6 1612,881.4 1612.7,856.2 1614.1,857.6 1614.8,879.3 1616.9,875.1 1619,873.7 1620.1,845.1 1621,864.6 1622.4,874.4 1623.8,865.3 1625.7,875.8 1626.9,846.5 1628.7,875.8 1630.8,860.4 1633.6,842.3 1635.4,867.4 1636.8,845.1 1637.8,845.8 1638.9,866 1640.2,796.2 1641.3,861.1 1642.7,867.4 1644.1,875.8 1645.2,867.4 1646.9,872.3 1648.3,882.8 1650,859 1651.1,854.1 1652.8,875.8 1654.6,878.6 1656,881.4 1658.3,892.6 1660.9,887 1662.5,893.3 1666.4,892.6 1667.8,898.2 1669,894 1671.3,898.2 1673.4,895.4 1676.2,896.1 1678.3,894.7 1680.4,898.2 1685.3,895.4 1688.8,896.8 1690.5,891.9 1693,896.8 1695.1,889.1 1697.9,888.4 1700.7,892.6 1702.1,903 1704.2,901.6 1707,907.9 1709.1,903.7 1711.8,904.4 1712.5,907.9 1714.6,907.2 1716,905.1 1719.5,910.7 1722.3,916.3 1724.4,912.1 1725.4,916.3 1726.5,911.4 1727.9,919.1 1730,917 1732.8,921.9 1737.7,917.7 1739.1,919.8 1744.7,920.8 1748.2,919.1 1752.4,917 1754.5,919.4 1757.9,918.4 1762.1,920.5 1766.3,921.9 1769.8,923.6 1769.8,923.6"/>
<polygon fill="#0000ff" points="1795.5,606.1 1796.9,606.1 1797.2,790 1797.6,870 1798,923.6 1794.8,923.6 1795,870 1795.3,790"/>
<polygon fill="#0000ff" points="1801.5,606.1 1803.1,606.1 1803.4,790 1803.9,870 1804.4,923.6 1800.4,923.6 1800.9,870 1801.3,790"/>
<polygon fill="#0000ff" points="1817.7,923.6 1818,830 1819,825.4 1820.5,835 1822,832 1823.8,800 1824.6,768 1826,768 1826.8,850 1828.2,923.6"/>
<polygon fill="#0000ff" points="1890.6,923.6 1890.6,921.6 1896.2,914.4 1898.6,906.5 1901.8,903.3 1904.2,900.1 1905,889 1907.3,883.4 1909.4,880.3 1910.5,882.6 1912.1,876.3 1913.7,844.5 1915.3,824.6 1916.4,825.4 1918,860.4 1919.3,847.7 1920.5,824.6 1922.1,847.7 1923.7,830.2 1924.8,827 1926.4,796.8 1928,780.1 1929.1,804.7 1930.4,777.7 1931.2,765 1932.7,733.5 1934.3,759 1936.6,660.4 1939,711.3 1941.4,743.1 1943,671.5 1944.6,703.3 1946.5,654 1948.6,695.4 1950.5,631.8 1951.7,609.5 1954.4,606 1954.4,923.6"/>
</g>
<rect x="1599.6" y="606.1" width="354.8" height="317.5" fill="none" stroke="#000" stroke-width="2.8"/>
<line x1="1829.5" y1="603.5" x2="1829.5" y2="924.8" stroke="#7030a0" stroke-width="5.2" stroke-dasharray="5.2 5.76"/>
<line x1="1800.2" y1="745.5" x2="1836.3" y2="715.5" stroke="#000" stroke-width="3.6"/>
<polygon fill="#000" points="1846.8,706.8 1840.6,720.6 1832.1,710.4"/>
<line x1="1823.7" y1="772.9" x2="1853.5" y2="718.7" stroke="#000" stroke-width="3.6"/>
<polygon fill="#000" points="1860.1,706.8 1859.3,721.9 1847.8,715.5"/>
<text x="1832.5" y="692.1" font-size="40.6">Ti<tspan dy="8.5" font-size="32.5">i</tspan><tspan dy="-23.8" font-size="32.5">0</tspan></text>
<text x="1777.7" y="592.7" font-size="40.6" text-anchor="middle" letter-spacing="0.3">PbI<tspan dy="9" font-size="32.5">2</tspan><tspan dy="-9">-termination</tspan></text>
<text x="1569.7" y="578.1" font-size="41.2" font-weight="bold">g</text>
<text x="1599.6" y="982.3" font-size="40.6" text-anchor="middle">-5</text>
<text x="1688.3" y="982.3" font-size="40.6" text-anchor="middle">-2.5</text>
<text x="1782.7" y="982.3" font-size="40.6" text-anchor="middle">0</text>
<text x="1871.4" y="982.3" font-size="40.6" text-anchor="middle">2.5</text>
<text x="1960.3" y="982.3" font-size="40.6" text-anchor="middle">5</text>
<text x="1576.3" y="936.5" font-size="40.6" text-anchor="end">0</text>
<text x="1576.3" y="777.8" font-size="40.6" text-anchor="end">5</text>
<text x="1576.3" y="619" font-size="40.6" text-anchor="end">10</text>
<text x="1777.6" y="1028.6" font-size="40.6" text-anchor="middle" letter-spacing="0.3">Energy (eV)</text>
</g>
</svg>
</body></html>
